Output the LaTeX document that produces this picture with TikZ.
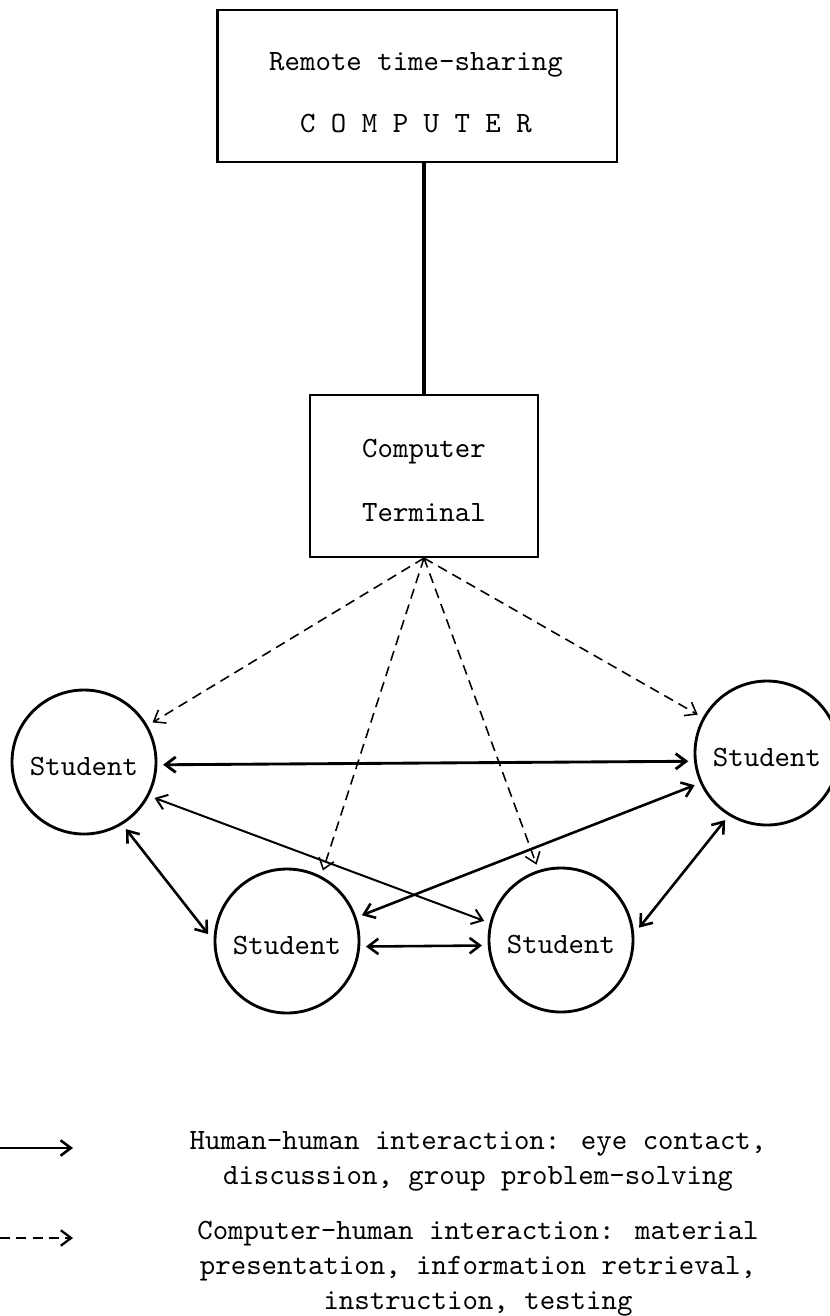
\documentclass[tikz,border=0pt]{standalone}
\usepackage{tikz}
\usetikzlibrary{arrows.meta,positioning}

\begin{document}
\begin{tikzpicture}[x=0.35pt,y=-0.35pt,
  >={Straight Barb[length=3.6pt,width=5.4pt]},
  hh/.style={<->, line width=0.9pt},
  cpt/.style={->, dash pattern=on 3.5pt off 2.2pt, line width=0.55pt},
  font=\fontsize{10.3}{12.3}\selectfont\ttfamily]
\tikzstyle{stud}=[circle, draw, line width=1pt, minimum size=50.4pt, inner sep=0pt, outer sep=2.5pt, text height=9.5pt]
\tikzstyle{box}=[rectangle, draw, line width=0.75pt]
\useasboundingbox (0,0) rectangle (830,1316);
\node[box, minimum width=139.7pt, minimum height=53.2pt] (comp) at (417,86) {};
\node[align=center] (comptxt) at (416,93) {Remote time-sharing\\[9.4pt]C O M P U T E R};
\node[box, minimum width=79.8pt, minimum height=56.7pt] (term) at (424,476) {};
\node[align=center] (termtxt) at (424,480) {Computer\\[10.1pt]Terminal};
\draw[line width=1.7pt] (term.north) -- (term.north |- comp.south);
\node[stud] (sl) at (84,762) {Student};
\node[stud] (sr) at (767,753) {Student};
\node[stud] (sbl) at (287,941) {Student};
\node[stud] (sbr) at (561,940) {Student};
% student - student
\draw[hh, line width=1pt] (sl.-2) -- (sr.186);
\draw[hh, line width=0.7pt] (sl.-27) -- (sbr.166);
\draw[hh] (sr.204) -- (sbl.19);
\draw[hh] (sl.-58) -- (sbl.175);
\draw[hh] (sr.-122) -- (sbr.9);
\draw[hh] (sbl.-4) -- (sbr.184);
% terminal - students
\foreach \s/\a in {sl/30, sr/151, sbl/63, sbr/108}
  \draw[cpt] (term.south) -- (\s.\a);
% legend
\coordinate (hhA) at (0,1148);
\coordinate (hhB) at (73,1148);
\draw[->, line width=0.9pt] (hhA) -- (hhB);
\coordinate (cpA) at (0,1238);
\coordinate (cpB) at (73,1238);
\draw[cpt, line width=0.8pt] (cpA) -- (cpB);
\node[align=center] (hhtxt) at (478,1161) {Human-human interaction: eye contact,\\discussion, group problem-solving};
\node[align=center] (cptxt) at (478,1269) {Computer-human interaction: material\\presentation, information retrieval,\\instruction, testing};
\end{tikzpicture}
\end{document}
